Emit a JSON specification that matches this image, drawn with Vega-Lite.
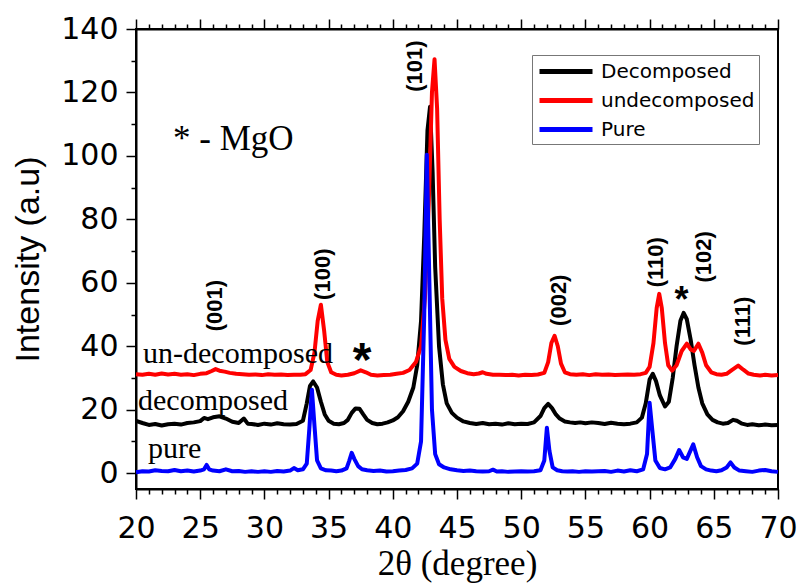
{
  "$schema": "https://vega.github.io/schema/vega-lite/v6.json",
  "width": 642,
  "height": 460,
  "autosize": "none",
  "padding": {"left": 136, "top": 29, "right": 23, "bottom": 94},
  "background": "white",
  "config": {
    "view": {"stroke": "black", "strokeWidth": 2},
    "axis": {"domainColor": "black", "domainWidth": 2, "tickColor": "black", "tickWidth": 1.5, "labelColor": "black", "titleColor": "black", "grid": false}
  },
  "resolve": {"axis": {"x": "independent", "y": "independent"}},
  "datasets": {
    "xrd": [
      {"sample":"Decomposed","angle":20,"intensity":16.5},{"sample":"Decomposed","angle":20.5,"intensity":15.8},{"sample":"Decomposed","angle":21,"intensity":15.2},{"sample":"Decomposed","angle":21.5,"intensity":15.5},{"sample":"Decomposed","angle":22,"intensity":15.0},{"sample":"Decomposed","angle":22.5,"intensity":15.4},{"sample":"Decomposed","angle":23,"intensity":15.6},{"sample":"Decomposed","angle":23.5,"intensity":15.3},{"sample":"Decomposed","angle":24,"intensity":15.8},{"sample":"Decomposed","angle":24.5,"intensity":16.0},{"sample":"Decomposed","angle":25,"intensity":16.4},{"sample":"Decomposed","angle":25.3,"intensity":17.4},{"sample":"Decomposed","angle":25.6,"intensity":17.0},{"sample":"Decomposed","angle":26,"intensity":17.6},{"sample":"Decomposed","angle":26.5,"intensity":17.9},{"sample":"Decomposed","angle":27,"intensity":17.2},{"sample":"Decomposed","angle":27.5,"intensity":16.2},{"sample":"Decomposed","angle":28,"intensity":15.8},{"sample":"Decomposed","angle":28.4,"intensity":17.2},{"sample":"Decomposed","angle":28.7,"intensity":15.6},{"sample":"Decomposed","angle":29,"intensity":15.5},{"sample":"Decomposed","angle":29.5,"intensity":15.2},{"sample":"Decomposed","angle":30,"intensity":15.6},{"sample":"Decomposed","angle":30.5,"intensity":15.3},{"sample":"Decomposed","angle":31,"intensity":15.7},{"sample":"Decomposed","angle":31.5,"intensity":15.4},{"sample":"Decomposed","angle":32,"intensity":15.3},{"sample":"Decomposed","angle":32.5,"intensity":15.5},{"sample":"Decomposed","angle":33,"intensity":16.5},{"sample":"Decomposed","angle":33.3,"intensity":22},{"sample":"Decomposed","angle":33.55,"intensity":27.5},{"sample":"Decomposed","angle":33.8,"intensity":28.9},{"sample":"Decomposed","angle":34.1,"intensity":27},{"sample":"Decomposed","angle":34.4,"intensity":22.5},{"sample":"Decomposed","angle":34.7,"intensity":18.5},{"sample":"Decomposed","angle":35,"intensity":16.5},{"sample":"Decomposed","angle":35.4,"intensity":15.6},{"sample":"Decomposed","angle":35.8,"intensity":15.4},{"sample":"Decomposed","angle":36.2,"intensity":15.8},{"sample":"Decomposed","angle":36.5,"intensity":16.8},{"sample":"Decomposed","angle":36.8,"intensity":19},{"sample":"Decomposed","angle":37.1,"intensity":20.4},{"sample":"Decomposed","angle":37.4,"intensity":20.3},{"sample":"Decomposed","angle":37.7,"intensity":18.5},{"sample":"Decomposed","angle":38,"intensity":16.8},{"sample":"Decomposed","angle":38.4,"intensity":15.8},{"sample":"Decomposed","angle":38.8,"intensity":15.4},{"sample":"Decomposed","angle":39.2,"intensity":15.6},{"sample":"Decomposed","angle":39.6,"intensity":16},{"sample":"Decomposed","angle":40,"intensity":16.6},{"sample":"Decomposed","angle":40.4,"intensity":17.6},{"sample":"Decomposed","angle":40.8,"intensity":19.5},{"sample":"Decomposed","angle":41.2,"intensity":22.5},{"sample":"Decomposed","angle":41.6,"intensity":27},{"sample":"Decomposed","angle":41.9,"intensity":34},{"sample":"Decomposed","angle":42.2,"intensity":48},{"sample":"Decomposed","angle":42.45,"intensity":75},{"sample":"Decomposed","angle":42.7,"intensity":108},{"sample":"Decomposed","angle":42.9,"intensity":115.5},{"sample":"Decomposed","angle":43.1,"intensity":95},{"sample":"Decomposed","angle":43.3,"intensity":65},{"sample":"Decomposed","angle":43.6,"intensity":40},{"sample":"Decomposed","angle":43.9,"intensity":28},{"sample":"Decomposed","angle":44.2,"intensity":22},{"sample":"Decomposed","angle":44.6,"intensity":19},{"sample":"Decomposed","angle":45,"intensity":17.5},{"sample":"Decomposed","angle":45.5,"intensity":16.3},{"sample":"Decomposed","angle":46,"intensity":15.8},{"sample":"Decomposed","angle":46.5,"intensity":15.5},{"sample":"Decomposed","angle":47,"intensity":15.8},{"sample":"Decomposed","angle":47.5,"intensity":15.4},{"sample":"Decomposed","angle":48,"intensity":15.6},{"sample":"Decomposed","angle":48.5,"intensity":15.3},{"sample":"Decomposed","angle":49,"intensity":15.7},{"sample":"Decomposed","angle":49.5,"intensity":15.4},{"sample":"Decomposed","angle":50,"intensity":15.6},{"sample":"Decomposed","angle":50.5,"intensity":15.5},{"sample":"Decomposed","angle":51,"intensity":16},{"sample":"Decomposed","angle":51.5,"intensity":18},{"sample":"Decomposed","angle":51.8,"intensity":20.5},{"sample":"Decomposed","angle":52.1,"intensity":21.8},{"sample":"Decomposed","angle":52.4,"intensity":20.5},{"sample":"Decomposed","angle":52.7,"intensity":18.5},{"sample":"Decomposed","angle":53,"intensity":17.2},{"sample":"Decomposed","angle":53.4,"intensity":16.3},{"sample":"Decomposed","angle":53.8,"intensity":16},{"sample":"Decomposed","angle":54.2,"intensity":15.8},{"sample":"Decomposed","angle":54.6,"intensity":16.0},{"sample":"Decomposed","angle":55,"intensity":15.7},{"sample":"Decomposed","angle":55.5,"intensity":16.0},{"sample":"Decomposed","angle":56,"intensity":15.8},{"sample":"Decomposed","angle":56.5,"intensity":15.5},{"sample":"Decomposed","angle":57,"intensity":15.9},{"sample":"Decomposed","angle":57.5,"intensity":15.6},{"sample":"Decomposed","angle":58,"intensity":15.4},{"sample":"Decomposed","angle":58.5,"intensity":15.6},{"sample":"Decomposed","angle":59,"intensity":16},{"sample":"Decomposed","angle":59.4,"intensity":17.5},{"sample":"Decomposed","angle":59.7,"intensity":22},{"sample":"Decomposed","angle":60,"intensity":29.5},{"sample":"Decomposed","angle":60.25,"intensity":31.3},{"sample":"Decomposed","angle":60.5,"intensity":29},{"sample":"Decomposed","angle":60.8,"intensity":24.5},{"sample":"Decomposed","angle":61.2,"intensity":21},{"sample":"Decomposed","angle":61.5,"intensity":22.5},{"sample":"Decomposed","angle":61.8,"intensity":30},{"sample":"Decomposed","angle":62.1,"intensity":40},{"sample":"Decomposed","angle":62.4,"intensity":48},{"sample":"Decomposed","angle":62.65,"intensity":50.5},{"sample":"Decomposed","angle":62.9,"intensity":48.5},{"sample":"Decomposed","angle":63.2,"intensity":42},{"sample":"Decomposed","angle":63.5,"intensity":34},{"sample":"Decomposed","angle":63.8,"intensity":27},{"sample":"Decomposed","angle":64.1,"intensity":22},{"sample":"Decomposed","angle":64.5,"intensity":18.5},{"sample":"Decomposed","angle":64.9,"intensity":16.8},{"sample":"Decomposed","angle":65.3,"intensity":16},{"sample":"Decomposed","angle":65.7,"intensity":15.6},{"sample":"Decomposed","angle":66.1,"intensity":15.8},{"sample":"Decomposed","angle":66.5,"intensity":16.8},{"sample":"Decomposed","angle":66.8,"intensity":16.5},{"sample":"Decomposed","angle":67.2,"intensity":15.6},{"sample":"Decomposed","angle":67.6,"intensity":15.2},{"sample":"Decomposed","angle":68,"intensity":15.4},{"sample":"Decomposed","angle":68.5,"intensity":15.1},{"sample":"Decomposed","angle":69,"intensity":15.3},{"sample":"Decomposed","angle":69.5,"intensity":15.1},{"sample":"Decomposed","angle":70,"intensity":15.2},
      {"sample":"undecomposed","angle":20,"intensity":31.2},{"sample":"undecomposed","angle":20.5,"intensity":31.0},{"sample":"undecomposed","angle":21,"intensity":31.3},{"sample":"undecomposed","angle":21.5,"intensity":31.0},{"sample":"undecomposed","angle":22,"intensity":31.4},{"sample":"undecomposed","angle":22.5,"intensity":31.1},{"sample":"undecomposed","angle":23,"intensity":31.3},{"sample":"undecomposed","angle":23.5,"intensity":31.0},{"sample":"undecomposed","angle":24,"intensity":31.2},{"sample":"undecomposed","angle":24.5,"intensity":30.9},{"sample":"undecomposed","angle":25,"intensity":31.3},{"sample":"undecomposed","angle":25.5,"intensity":31.5},{"sample":"undecomposed","angle":25.9,"intensity":32.2},{"sample":"undecomposed","angle":26.2,"intensity":32.8},{"sample":"undecomposed","angle":26.5,"intensity":32.3},{"sample":"undecomposed","angle":26.9,"intensity":32.0},{"sample":"undecomposed","angle":27.3,"intensity":31.6},{"sample":"undecomposed","angle":27.8,"intensity":31.3},{"sample":"undecomposed","angle":28.3,"intensity":31.2},{"sample":"undecomposed","angle":28.8,"intensity":31.0},{"sample":"undecomposed","angle":29.3,"intensity":31.1},{"sample":"undecomposed","angle":29.8,"intensity":30.9},{"sample":"undecomposed","angle":30.3,"intensity":31.2},{"sample":"undecomposed","angle":30.8,"intensity":31.0},{"sample":"undecomposed","angle":31.3,"intensity":31.1},{"sample":"undecomposed","angle":31.8,"intensity":30.9},{"sample":"undecomposed","angle":32.3,"intensity":31.0},{"sample":"undecomposed","angle":32.8,"intensity":31.0},{"sample":"undecomposed","angle":33.2,"intensity":31.2},{"sample":"undecomposed","angle":33.6,"intensity":32.5},{"sample":"undecomposed","angle":33.9,"intensity":38},{"sample":"undecomposed","angle":34.15,"intensity":48},{"sample":"undecomposed","angle":34.4,"intensity":53.1},{"sample":"undecomposed","angle":34.65,"intensity":45},{"sample":"undecomposed","angle":34.9,"intensity":35},{"sample":"undecomposed","angle":35.2,"intensity":31.8},{"sample":"undecomposed","angle":35.6,"intensity":31.0},{"sample":"undecomposed","angle":36,"intensity":30.8},{"sample":"undecomposed","angle":36.5,"intensity":31.0},{"sample":"undecomposed","angle":37,"intensity":31.5},{"sample":"undecomposed","angle":37.5,"intensity":32.4},{"sample":"undecomposed","angle":37.9,"intensity":31.8},{"sample":"undecomposed","angle":38.3,"intensity":31.0},{"sample":"undecomposed","angle":38.8,"intensity":30.8},{"sample":"undecomposed","angle":39.3,"intensity":30.9},{"sample":"undecomposed","angle":39.8,"intensity":31.0},{"sample":"undecomposed","angle":40.3,"intensity":31.3},{"sample":"undecomposed","angle":40.8,"intensity":31.6},{"sample":"undecomposed","angle":41.3,"intensity":32.5},{"sample":"undecomposed","angle":41.8,"intensity":35},{"sample":"undecomposed","angle":42.2,"intensity":40},{"sample":"undecomposed","angle":42.5,"intensity":55},{"sample":"undecomposed","angle":42.8,"intensity":85},{"sample":"undecomposed","angle":43.05,"intensity":120},{"sample":"undecomposed","angle":43.25,"intensity":130.5},{"sample":"undecomposed","angle":43.45,"intensity":115},{"sample":"undecomposed","angle":43.65,"intensity":80},{"sample":"undecomposed","angle":43.85,"intensity":55},{"sample":"undecomposed","angle":44.1,"intensity":42},{"sample":"undecomposed","angle":44.4,"intensity":36},{"sample":"undecomposed","angle":44.8,"intensity":33.5},{"sample":"undecomposed","angle":45.3,"intensity":32.2},{"sample":"undecomposed","angle":45.8,"intensity":31.5},{"sample":"undecomposed","angle":46.3,"intensity":31.2},{"sample":"undecomposed","angle":46.7,"intensity":31.4},{"sample":"undecomposed","angle":47,"intensity":31.8},{"sample":"undecomposed","angle":47.3,"intensity":31.3},{"sample":"undecomposed","angle":47.8,"intensity":31.0},{"sample":"undecomposed","angle":48.3,"intensity":31.0},{"sample":"undecomposed","angle":48.8,"intensity":30.9},{"sample":"undecomposed","angle":49.3,"intensity":31.0},{"sample":"undecomposed","angle":49.8,"intensity":30.8},{"sample":"undecomposed","angle":50.3,"intensity":31.0},{"sample":"undecomposed","angle":50.8,"intensity":30.9},{"sample":"undecomposed","angle":51.3,"intensity":31.1},{"sample":"undecomposed","angle":51.8,"intensity":31.6},{"sample":"undecomposed","angle":52.1,"intensity":35},{"sample":"undecomposed","angle":52.35,"intensity":41},{"sample":"undecomposed","angle":52.6,"intensity":43.3},{"sample":"undecomposed","angle":52.85,"intensity":40},{"sample":"undecomposed","angle":53.1,"intensity":34.5},{"sample":"undecomposed","angle":53.4,"intensity":31.8},{"sample":"undecomposed","angle":53.8,"intensity":31.2},{"sample":"undecomposed","angle":54.3,"intensity":31.0},{"sample":"undecomposed","angle":54.8,"intensity":31.2},{"sample":"undecomposed","angle":55.3,"intensity":30.9},{"sample":"undecomposed","angle":55.8,"intensity":31.2},{"sample":"undecomposed","angle":56.3,"intensity":31.0},{"sample":"undecomposed","angle":56.8,"intensity":31.1},{"sample":"undecomposed","angle":57.3,"intensity":30.9},{"sample":"undecomposed","angle":57.8,"intensity":31.0},{"sample":"undecomposed","angle":58.3,"intensity":31.1},{"sample":"undecomposed","angle":58.8,"intensity":31.0},{"sample":"undecomposed","angle":59.3,"intensity":31.2},{"sample":"undecomposed","angle":59.7,"intensity":31.6},{"sample":"undecomposed","angle":60,"intensity":33.5},{"sample":"undecomposed","angle":60.3,"intensity":41},{"sample":"undecomposed","angle":60.55,"intensity":52},{"sample":"undecomposed","angle":60.75,"intensity":56.5},{"sample":"undecomposed","angle":60.95,"intensity":52},{"sample":"undecomposed","angle":61.2,"intensity":41},{"sample":"undecomposed","angle":61.45,"intensity":34},{"sample":"undecomposed","angle":61.75,"intensity":32.3},{"sample":"undecomposed","angle":62.1,"intensity":34},{"sample":"undecomposed","angle":62.5,"intensity":38.5},{"sample":"undecomposed","angle":62.9,"intensity":40.8},{"sample":"undecomposed","angle":63.2,"intensity":39},{"sample":"undecomposed","angle":63.45,"intensity":38.5},{"sample":"undecomposed","angle":63.8,"intensity":40.8},{"sample":"undecomposed","angle":64.1,"intensity":38},{"sample":"undecomposed","angle":64.4,"intensity":34},{"sample":"undecomposed","angle":64.8,"intensity":31.8},{"sample":"undecomposed","angle":65.2,"intensity":31.2},{"sample":"undecomposed","angle":65.6,"intensity":31.0},{"sample":"undecomposed","angle":66,"intensity":31.3},{"sample":"undecomposed","angle":66.4,"intensity":32.5},{"sample":"undecomposed","angle":66.9,"intensity":33.9},{"sample":"undecomposed","angle":67.3,"intensity":32.6},{"sample":"undecomposed","angle":67.7,"intensity":31.4},{"sample":"undecomposed","angle":68.1,"intensity":31.0},{"sample":"undecomposed","angle":68.6,"intensity":30.8},{"sample":"undecomposed","angle":69,"intensity":31.0},{"sample":"undecomposed","angle":69.5,"intensity":30.8},{"sample":"undecomposed","angle":70,"intensity":30.9},
      {"sample":"Pure","angle":20,"intensity":0.3},{"sample":"Pure","angle":20.5,"intensity":0.6},{"sample":"Pure","angle":21,"intensity":0.5},{"sample":"Pure","angle":21.5,"intensity":0.9},{"sample":"Pure","angle":22,"intensity":0.7},{"sample":"Pure","angle":22.5,"intensity":0.6},{"sample":"Pure","angle":23,"intensity":1.0},{"sample":"Pure","angle":23.5,"intensity":0.6},{"sample":"Pure","angle":24,"intensity":0.8},{"sample":"Pure","angle":24.5,"intensity":0.5},{"sample":"Pure","angle":25,"intensity":0.8},{"sample":"Pure","angle":25.3,"intensity":1.2},{"sample":"Pure","angle":25.5,"intensity":2.6},{"sample":"Pure","angle":25.7,"intensity":1.2},{"sample":"Pure","angle":26,"intensity":0.8},{"sample":"Pure","angle":26.5,"intensity":0.6},{"sample":"Pure","angle":27,"intensity":1.2},{"sample":"Pure","angle":27.5,"intensity":0.6},{"sample":"Pure","angle":28,"intensity":0.7},{"sample":"Pure","angle":28.5,"intensity":0.4},{"sample":"Pure","angle":29,"intensity":0.6},{"sample":"Pure","angle":29.5,"intensity":0.4},{"sample":"Pure","angle":30,"intensity":0.6},{"sample":"Pure","angle":30.5,"intensity":0.4},{"sample":"Pure","angle":31,"intensity":0.7},{"sample":"Pure","angle":31.5,"intensity":0.5},{"sample":"Pure","angle":32,"intensity":0.8},{"sample":"Pure","angle":32.3,"intensity":1.6},{"sample":"Pure","angle":32.6,"intensity":0.9},{"sample":"Pure","angle":33,"intensity":1.2},{"sample":"Pure","angle":33.3,"intensity":3},{"sample":"Pure","angle":33.5,"intensity":14},{"sample":"Pure","angle":33.7,"intensity":26.3},{"sample":"Pure","angle":33.9,"intensity":15},{"sample":"Pure","angle":34.1,"intensity":4},{"sample":"Pure","angle":34.4,"intensity":1.5},{"sample":"Pure","angle":34.8,"intensity":0.9},{"sample":"Pure","angle":35.2,"intensity":0.8},{"sample":"Pure","angle":35.6,"intensity":0.6},{"sample":"Pure","angle":36,"intensity":0.8},{"sample":"Pure","angle":36.4,"intensity":1.5},{"sample":"Pure","angle":36.6,"intensity":3.8},{"sample":"Pure","angle":36.8,"intensity":6.4},{"sample":"Pure","angle":37,"intensity":4.5},{"sample":"Pure","angle":37.3,"intensity":2.2},{"sample":"Pure","angle":37.6,"intensity":1.2},{"sample":"Pure","angle":38,"intensity":0.9},{"sample":"Pure","angle":38.5,"intensity":0.7},{"sample":"Pure","angle":39,"intensity":0.8},{"sample":"Pure","angle":39.5,"intensity":0.5},{"sample":"Pure","angle":40,"intensity":0.6},{"sample":"Pure","angle":40.5,"intensity":0.8},{"sample":"Pure","angle":41,"intensity":1.0},{"sample":"Pure","angle":41.5,"intensity":1.5},{"sample":"Pure","angle":41.9,"intensity":3},{"sample":"Pure","angle":42.2,"intensity":10},{"sample":"Pure","angle":42.45,"intensity":50},{"sample":"Pure","angle":42.65,"intensity":100.4},{"sample":"Pure","angle":42.85,"intensity":60},{"sample":"Pure","angle":43.05,"intensity":20},{"sample":"Pure","angle":43.3,"intensity":6},{"sample":"Pure","angle":43.6,"intensity":2.8},{"sample":"Pure","angle":44,"intensity":1.8},{"sample":"Pure","angle":44.5,"intensity":1.2},{"sample":"Pure","angle":45,"intensity":0.9},{"sample":"Pure","angle":45.5,"intensity":0.7},{"sample":"Pure","angle":46,"intensity":0.8},{"sample":"Pure","angle":46.5,"intensity":0.6},{"sample":"Pure","angle":47,"intensity":0.5},{"sample":"Pure","angle":47.5,"intensity":0.6},{"sample":"Pure","angle":47.8,"intensity":1.1},{"sample":"Pure","angle":48.1,"intensity":0.5},{"sample":"Pure","angle":48.5,"intensity":0.6},{"sample":"Pure","angle":49,"intensity":0.4},{"sample":"Pure","angle":49.5,"intensity":0.5},{"sample":"Pure","angle":50,"intensity":0.6},{"sample":"Pure","angle":50.5,"intensity":0.5},{"sample":"Pure","angle":51,"intensity":0.6},{"sample":"Pure","angle":51.5,"intensity":0.9},{"sample":"Pure","angle":51.8,"intensity":4},{"sample":"Pure","angle":52,"intensity":14.3},{"sample":"Pure","angle":52.2,"intensity":7},{"sample":"Pure","angle":52.45,"intensity":1.8},{"sample":"Pure","angle":52.8,"intensity":0.9},{"sample":"Pure","angle":53.2,"intensity":0.6},{"sample":"Pure","angle":53.6,"intensity":0.5},{"sample":"Pure","angle":54,"intensity":0.6},{"sample":"Pure","angle":54.5,"intensity":0.4},{"sample":"Pure","angle":55,"intensity":0.6},{"sample":"Pure","angle":55.5,"intensity":0.5},{"sample":"Pure","angle":56,"intensity":0.6},{"sample":"Pure","angle":56.5,"intensity":0.7},{"sample":"Pure","angle":57,"intensity":0.4},{"sample":"Pure","angle":57.5,"intensity":0.8},{"sample":"Pure","angle":58,"intensity":0.5},{"sample":"Pure","angle":58.5,"intensity":0.9},{"sample":"Pure","angle":59,"intensity":0.6},{"sample":"Pure","angle":59.5,"intensity":1.2},{"sample":"Pure","angle":59.8,"intensity":6},{"sample":"Pure","angle":60,"intensity":22.2},{"sample":"Pure","angle":60.2,"intensity":14},{"sample":"Pure","angle":60.45,"intensity":4},{"sample":"Pure","angle":60.8,"intensity":1.6},{"sample":"Pure","angle":61.2,"intensity":1.2},{"sample":"Pure","angle":61.6,"intensity":1.8},{"sample":"Pure","angle":62,"intensity":4.5},{"sample":"Pure","angle":62.3,"intensity":7.3},{"sample":"Pure","angle":62.6,"intensity":5},{"sample":"Pure","angle":62.9,"intensity":4.5},{"sample":"Pure","angle":63.4,"intensity":9.1},{"sample":"Pure","angle":63.7,"intensity":5},{"sample":"Pure","angle":64,"intensity":2.2},{"sample":"Pure","angle":64.4,"intensity":1.2},{"sample":"Pure","angle":64.8,"intensity":0.8},{"sample":"Pure","angle":65.2,"intensity":0.6},{"sample":"Pure","angle":65.6,"intensity":0.9},{"sample":"Pure","angle":66,"intensity":1.8},{"sample":"Pure","angle":66.3,"intensity":3.4},{"sample":"Pure","angle":66.6,"intensity":1.8},{"sample":"Pure","angle":67,"intensity":0.8},{"sample":"Pure","angle":67.5,"intensity":0.6},{"sample":"Pure","angle":68,"intensity":0.4},{"sample":"Pure","angle":68.5,"intensity":0.8},{"sample":"Pure","angle":69,"intensity":1.0},{"sample":"Pure","angle":69.5,"intensity":0.6},{"sample":"Pure","angle":70,"intensity":0.4}
    ],
    "hkl": [
      {"label":"(001)","angle":26.15,"intensity":52.8},
      {"label":"(100)","angle":34.55,"intensity":62.7},
      {"label":"(101)","angle":41.73,"intensity":128.3},
      {"label":"(002)","angle":52.97,"intensity":54.5},
      {"label":"(110)","angle":60.47,"intensity":66.5},
      {"label":"(102)","angle":64.24,"intensity":68.2},
      {"label":"(111)","angle":67.3,"intensity":47.9}
    ],
    "names": [
      {"label":"* - MgO","angle":22.88,"intensity":102,"size":35},
      {"label":"un-decomposed","angle":20.55,"intensity":34.7,"size":30},
      {"label":"decomposed","angle":20.16,"intensity":20.0,"size":30},
      {"label":"pure","angle":20.93,"intensity":4.8,"size":30}
    ],
    "stars": [
      {"label":"*","angle":37.6,"intensity":30.6,"size":48},
      {"label":"*","angle":62.48,"intensity":50.8,"size":36}
    ]
  },
  "layer": [
    {
      "data": {"name": "xrd"},
      "mark": {"type": "line", "strokeWidth": 4, "strokeJoin": "round"},
      "encoding": {
        "x": {
          "field": "angle", "type": "quantitative",
          "scale": {"domain": [20, 70], "nice": false, "zero": false},
          "axis": {
            "orient": "bottom",
            "values": [20,21,22,23,24,25,26,27,28,29,30,31,32,33,34,35,36,37,38,39,40,41,42,43,44,45,46,47,48,49,50,51,52,53,54,55,56,57,58,59,60,61,62,63,64,65,66,67,68,69,70],
            "labelExpr": "datum.value % 5 === 0 ? datum.label : ''",
            "tickSize": {"condition": {"test": "datum.value % 5 !== 0", "value": 5}, "value": 10},
            "labelFont": "DejaVu Sans", "labelFontSize": 30, "labelPadding": 14,
            "labelOverlap": false, "labelFlush": false,
            "title": "2θ (degree)", "titleFont": "Liberation Serif", "titleFontSize": 35, "titleFontWeight": "normal", "titlePadding": 3
          }
        },
        "y": {
          "field": "intensity", "type": "quantitative",
          "scale": {"domain": [-5, 140], "nice": false, "zero": false},
          "axis": {
            "orient": "left",
            "values": [0,10,20,30,40,50,60,70,80,90,100,110,120,130,140],
            "labelExpr": "datum.value % 20 === 0 ? datum.label : ''",
            "tickSize": {"condition": {"test": "datum.value % 20 !== 0", "value": 5}, "value": 10},
            "labelFont": "DejaVu Sans", "labelFontSize": 30, "labelPadding": 8,
            "labelOverlap": false, "labelFlush": false,
            "title": "Intensity (a.u)", "titleFont": "Liberation Sans", "titleFontSize": 34, "titleFontWeight": "normal", "titlePadding": 15
          }
        },
        "color": {
          "field": "sample", "type": "nominal",
          "scale": {"domain": ["Decomposed", "undecomposed", "Pure"], "range": ["#000000", "#ff0000", "#0000ff"]},
          "sort": ["Decomposed", "undecomposed", "Pure"],
          "legend": {
            "orient": "none", "legendX": 396, "legendY": 26, "title": null,
            "symbolType": "M-0.9,0H4.4", "symbolStrokeWidth": 5, "symbolSize": 400,
            "labelFont": "DejaVu Sans", "labelFontSize": 20, "labelColor": "black", "labelOffset": 40,
            "strokeColor": "#777777", "fillColor": "white", "padding": 4, "rowPadding": 6
          }
        }
      }
    },
    {
      "data": {"name": "hkl"},
      "mark": {"type": "text", "angle": 270, "font": "Liberation Sans", "fontWeight": "bold", "fontSize": 22, "align": "center", "baseline": "middle", "color": "black"},
      "encoding": {
        "x": {
          "field": "angle", "type": "quantitative",
          "axis": {
            "orient": "top",
            "values": [20,21,22,23,24,25,26,27,28,29,30,31,32,33,34,35,36,37,38,39,40,41,42,43,44,45,46,47,48,49,50,51,52,53,54,55,56,57,58,59,60,61,62,63,64,65,66,67,68,69,70],
            "labels": false,
            "tickSize": {"condition": {"test": "datum.value % 5 !== 0", "value": 5}, "value": 10},
            "title": null
          }
        },
        "y": {"field": "intensity", "type": "quantitative", "axis": null},
        "text": {"field": "label"}
      }
    },
    {
      "data": {"name": "names"},
      "mark": {"type": "text", "font": "Liberation Serif", "align": "left", "baseline": "alphabetic", "color": "black"},
      "encoding": {
        "x": {"field": "angle", "type": "quantitative", "axis": null},
        "y": {"field": "intensity", "type": "quantitative", "axis": null},
        "text": {"field": "label"},
        "size": {"field": "size", "type": "quantitative", "scale": null, "legend": null}
      }
    },
    {
      "data": {"name": "stars"},
      "mark": {"type": "text", "font": "Liberation Sans", "fontWeight": "bold", "align": "center", "baseline": "alphabetic", "color": "black"},
      "encoding": {
        "x": {"field": "angle", "type": "quantitative", "axis": null},
        "y": {"field": "intensity", "type": "quantitative", "axis": null},
        "text": {"field": "label"},
        "size": {"field": "size", "type": "quantitative", "scale": null, "legend": null}
      }
    }
  ]
}
